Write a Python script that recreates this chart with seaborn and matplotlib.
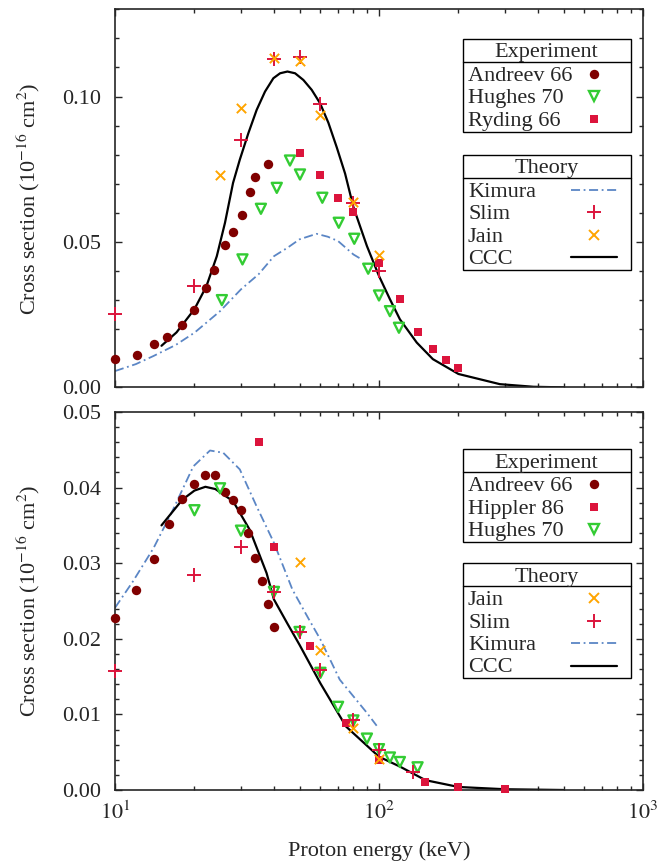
import numpy as np
import pandas as pd
import matplotlib
matplotlib.use('Agg')
import matplotlib.pyplot as plt
import seaborn as sns
from matplotlib.lines import Line2D
from matplotlib.patches import Rectangle
from matplotlib.transforms import Affine2D
from matplotlib.ticker import MultipleLocator, FuncFormatter, NullFormatter

# ---- data (energy in keV, cross section in 1e-16 cm^2) ----
# upper panel
andreev_top_E = [10, 12.1, 14, 15.8, 17.9, 20, 22.2, 23.8, 26, 28, 30.2, 32.4, 34, 38.1]
andreev_top_s = [0.0096, 0.0111, 0.0148, 0.0173, 0.0214, 0.0265, 0.0340, 0.0404, 0.0491,
                 0.0534, 0.0592, 0.0671, 0.0724, 0.0769]
hughes_top_E = [25.4, 30.4, 35.7, 41, 46, 50.2, 61, 70.4, 80.6, 91, 100, 110, 119]
hughes_top_s = [0.0300, 0.0440, 0.0614, 0.0686, 0.0780, 0.0732, 0.0652, 0.0566, 0.0511,
                0.0408, 0.0316, 0.0262, 0.0205]
ryding_top_E = [50, 60, 70, 80, 100, 120, 140, 160, 180, 200]
ryding_top_s = [0.0806, 0.0729, 0.0650, 0.0604, 0.0428, 0.0305, 0.0191, 0.0133, 0.0093, 0.0068]
slim_top_E = [10, 20, 30, 40, 50, 60, 80, 100]
slim_top_s = [0.0251, 0.0350, 0.0852, 0.1130, 0.1136, 0.0975, 0.0635, 0.0400]
jain_top_E = [25, 30, 40, 50, 60, 80, 100]
jain_top_s = [0.0730, 0.0959, 0.1133, 0.1121, 0.0938, 0.0637, 0.0454]
kimura_top_E = [10, 12, 14, 17, 20, 25, 30, 35, 40, 45, 50, 58, 64, 70, 80, 86]
kimura_top_s = [0.0056, 0.0080, 0.0108, 0.0146, 0.0188, 0.0262, 0.0337, 0.0389, 0.0451,
                0.0480, 0.0509, 0.0528, 0.0518, 0.0503, 0.0457, 0.0440]
ccc_top_E = [15, 17.1, 20, 22.2, 24.3, 26.1, 28, 29.7, 32, 34.4, 37, 39.8, 42.2, 45, 48.1,
             51.7, 55.6, 59.8, 64.3, 69.2, 74.4, 80, 90, 100, 110, 120, 139, 160, 200, 287,
             385, 500]
ccc_top_s = [0.0143, 0.0189, 0.0269, 0.0348, 0.0451, 0.0566, 0.0703, 0.0783, 0.0874, 0.0954,
             0.1017, 0.1063, 0.1080, 0.1086, 0.1080, 0.1057, 0.1023, 0.0977, 0.0910, 0.0825,
             0.0735, 0.0620, 0.0486, 0.0383, 0.0303, 0.0234, 0.0154, 0.0097, 0.0046, 0.0011,
             0.0002, 0.0]

# lower panel
andreev_bot_E = [10, 12, 14, 16, 18, 20, 22, 24, 26, 28, 30, 32, 34, 36, 38, 40]
andreev_bot_s = [0.0227, 0.0264, 0.0306, 0.0352, 0.0385, 0.0405, 0.0417, 0.0416, 0.0394,
                 0.0383, 0.0370, 0.0340, 0.0307, 0.0276, 0.0246, 0.0216]
hippler_E = [35, 40, 55, 75, 100, 150, 200, 300]
hippler_s = [0.0460, 0.0322, 0.0191, 0.0088, 0.0040, 0.0010, 0.0004, 0.0001]
hughes_bot_E = [20, 25, 30, 40, 50, 60, 70, 80, 90, 100, 110, 120, 140]
hughes_bot_s = [0.0370, 0.0399, 0.0343, 0.0262, 0.0209, 0.0155, 0.0110, 0.0092, 0.0068,
                0.0054, 0.0043, 0.0037, 0.0030]
jain_bot_E = [50, 60, 80, 100]
jain_bot_s = [0.0302, 0.0185, 0.0082, 0.0041]
slim_bot_E = [10, 20, 30, 40, 50, 60, 80, 100, 135]
slim_bot_s = [0.0158, 0.0285, 0.0321, 0.0262, 0.0209, 0.0159, 0.0092, 0.0053, 0.0024]
kimura_bot_E = [10, 11.7, 14, 16.6, 19.8, 22.9, 25.7, 29.7, 34.4, 40, 47, 54, 60, 71, 90, 98]
kimura_bot_s = [0.0241, 0.0276, 0.0320, 0.0371, 0.0428, 0.0449, 0.0446, 0.0424, 0.0375,
                0.0327, 0.0265, 0.0227, 0.0199, 0.0146, 0.0102, 0.0085]
ccc_bot_E = [15, 18, 20, 22, 24, 28, 32.4, 37.5, 40, 45, 50, 60, 75, 100, 120, 150, 200, 300, 500]
ccc_bot_s = [0.0350, 0.0384, 0.0396, 0.0401, 0.0398, 0.0382, 0.0344, 0.0287, 0.0252, 0.0220,
             0.0192, 0.0141, 0.0084, 0.0044, 0.0031, 0.0013, 0.0004, 0.0001, 0.0]

# ---- styles ----
MAROON = '#800000'
GREEN = '#33cc33'
CRIMSON = '#dc143c'
ORANGE = '#ffa500'
STEEL = '#5b86c5'
DASHDOT = (0, (5, 2, 1, 2))

STYLE = {
    'andreev': dict(marker='o', s=46, color=MAROON, edgecolor=MAROON, linewidth=0),
    'hughes': dict(marker='v', s=52, facecolors='none', edgecolor=GREEN, linewidth=1.7),
    'square': dict(marker='s', s=36, color=CRIMSON, edgecolor=CRIMSON, linewidth=0),
    'slim': dict(marker='+', s=95, color=CRIMSON, linewidth=1.4),
    'jain': dict(marker='x', s=45, color=ORANGE, linewidth=1.4),
}

W, H = 658, 861

sns.set_style('ticks')
plt.rcParams['font.family'] = ['Liberation Serif', 'DejaVu Serif']
plt.rcParams['mathtext.fontset'] = 'stix'
plt.rcParams['font.size'] = 16


def scatter(ax, E, s, key):
    df = pd.DataFrame({'E': E, 'sigma': s})
    sns.scatterplot(data=df, x='E', y='sigma', ax=ax, zorder=3, clip_on=False, **STYLE[key])


def line(ax, E, s, color, ls='-', lw=1.5):
    df = pd.DataFrame({'E': E, 'sigma': s})
    sns.lineplot(data=df, x='E', y='sigma', ax=ax, color=color, linestyle=ls,
                 linewidth=lw, zorder=2)


def boxed_legend(fig, top, title, entries):
    # legend box drawn in reference pixel coordinates (y down)
    pix = Affine2D().scale(1 / W, -1 / H).translate(0, 1) + fig.transFigure
    n = len(entries)
    height = 23 + n * 22.4 + 2.5
    fig.add_artist(Rectangle((462.5, top), 168, height, transform=pix,
                             facecolor='white', edgecolor='black', lw=1.0, zorder=5))
    fig.add_artist(Line2D([462.5, 630.5], [top + 22.5, top + 22.5], transform=pix,
                          color='black', lw=1.0, zorder=6))
    fig.text(546.5, top + 11.5, title, transform=pix, ha='center', va='center_baseline',
             fontsize=16, zorder=6)
    for i, (label, kind, kw) in enumerate(entries):
        y = top + 35 + i * 22.4
        fig.text(468, y, label, transform=pix, ha='left', va='center_baseline',
                 fontsize=16, zorder=6)
        if kind == 'line':
            fig.add_artist(Line2D([571, 617], [y, y], transform=pix, zorder=6, **kw))
        else:
            fig.add_artist(Line2D([593.5], [y], transform=pix, linestyle='none',
                                  zorder=6, **kw))


def mk(key):
    st = STYLE[key]
    face = 'none' if st.get('facecolors') == 'none' else st.get('color', st.get('edgecolor'))
    edge = st.get('edgecolor', st.get('color'))
    return dict(marker=st['marker'], markersize=np.sqrt(st['s']), markerfacecolor=face,
                markeredgecolor=edge, markeredgewidth=st['linewidth'] if st['linewidth'] else 0)


fig, (ax1, ax2) = plt.subplots(2, 1, figsize=(W / 100, H / 100), dpi=100)
fig.subplots_adjust(left=115 / W, right=643 / W, top=1 - 9.3 / H, bottom=1 - 790 / H,
                    hspace=0.065)

for ax in (ax1, ax2):
    ax.set_xscale('log')

# upper panel
line(ax1, kimura_top_E, kimura_top_s, STEEL, ls=DASHDOT, lw=1.3)
line(ax1, ccc_top_E, ccc_top_s, 'black', lw=1.6)
scatter(ax1, andreev_top_E, andreev_top_s, 'andreev')
scatter(ax1, hughes_top_E, hughes_top_s, 'hughes')
scatter(ax1, ryding_top_E, ryding_top_s, 'square')
scatter(ax1, slim_top_E, slim_top_s, 'slim')
scatter(ax1, jain_top_E, jain_top_s, 'jain')

# lower panel
line(ax2, kimura_bot_E, kimura_bot_s, STEEL, ls=DASHDOT, lw=1.3)
line(ax2, ccc_bot_E, ccc_bot_s, 'black', lw=1.6)
scatter(ax2, andreev_bot_E, andreev_bot_s, 'andreev')
scatter(ax2, hippler_E, hippler_s, 'square')
scatter(ax2, hughes_bot_E, hughes_bot_s, 'hughes')
scatter(ax2, slim_bot_E, slim_bot_s, 'slim')
scatter(ax2, jain_bot_E, jain_bot_s, 'jain')

ax1.set_ylim(0, 0.13)
ax1.yaxis.set_major_locator(MultipleLocator(0.05))
ax1.yaxis.set_minor_locator(MultipleLocator(0.01))
ax2.set_ylim(0, 0.05)
ax2.yaxis.set_major_locator(MultipleLocator(0.01))
ax2.yaxis.set_minor_locator(MultipleLocator(0.002))

for ax in (ax1, ax2):
    ax.set_xlim(10, 1000)
    ax.xaxis.set_major_formatter(FuncFormatter(lambda v, p: r'$10^{%d}$' % round(np.log10(v))))
    ax.xaxis.set_minor_formatter(NullFormatter())
    ax.yaxis.set_major_formatter(FuncFormatter(lambda v, p: '%.2f' % v))
    ax.tick_params(which='both', direction='in', top=True, right=True, width=1.0)
    ax.tick_params(which='major', length=5, labelsize=16, pad=10)
    ax.tick_params(which='minor', length=3)
    for sp in ax.spines.values():
        sp.set_linewidth(1.2)
    ax.set_ylabel(r'Cross section (10$^{-16}$ cm$^2$)', fontsize=16)
    ax.yaxis.set_label_coords(-0.1375, 0.5)
    ax.set_xlabel('')

ax1.tick_params(labelbottom=False)
ax2.tick_params(axis='x', pad=8)
ax2.set_xlabel('Proton energy (keV)', fontsize=16, labelpad=13)

kim = dict(color=STEEL, lw=1.3, linestyle=DASHDOT)
ccc = dict(color='black', lw=1.6)
boxed_legend(fig, 39, 'Experiment', [('Andreev 66', 'mark', mk('andreev')),
                                      ('Hughes 70', 'mark', mk('hughes')),
                                      ('Ryding 66', 'mark', mk('square'))])
boxed_legend(fig, 155, 'Theory', [('Kimura', 'line', kim),
                                  ('Slim', 'mark', mk('slim')),
                                  ('Jain', 'mark', mk('jain')),
                                  ('CCC', 'line', ccc)])
boxed_legend(fig, 449.3, 'Experiment', [('Andreev 66', 'mark', mk('andreev')),
                                         ('Hippler 86', 'mark', mk('square')),
                                         ('Hughes 70', 'mark', mk('hughes'))])
boxed_legend(fig, 563.3, 'Theory', [('Jain', 'mark', mk('jain')),
                                    ('Slim', 'mark', mk('slim')),
                                    ('Kimura', 'line', kim),
                                    ('CCC', 'line', ccc)])

fig.savefig('out.png', dpi=100)
